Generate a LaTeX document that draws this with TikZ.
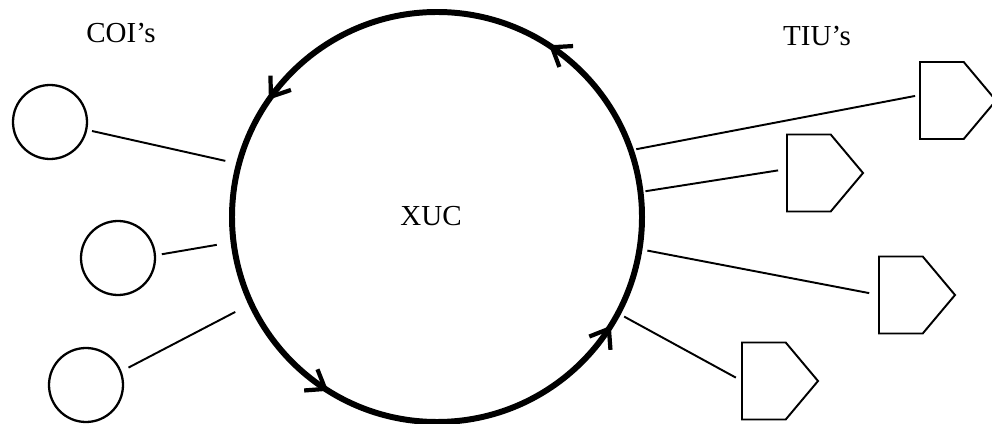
\documentclass[tikz,border=0pt]{standalone}
\usepackage{fontspec}
\setmainfont{Liberation Serif}
\usetikzlibrary{arrows.meta,shapes.symbols,decorations.markings}

\begin{document}
\begin{tikzpicture}[x=0.2mm,y=0.2mm,
  ring/.style={circle,draw,line width=3.4pt,minimum size=82mm,inner sep=0pt,outer sep=0pt},
  coi/.style={circle,draw,line width=1.3pt,minimum size=14.8mm,inner sep=0pt,outer sep=0pt},
  tiu/.style={signal,signal to=east,signal from=nowhere,signal pointer angle=100,draw,line width=1.1pt,
    minimum width=15.2mm,minimum height=15.4mm,inner sep=0pt,outer sep=0pt,anchor=west},
  link/.style={line width=1.1pt},
  lbl/.style={font=\fontsize{16.5}{20}\selectfont},
  barb/.style={decoration={markings,
    mark=at position #1 with {\arrow{Straight Barb[length=3.4mm,width=5mm,line width=2.4pt]}}}},
  flow/.style={postaction={decorate,barb=0.158},postaction={decorate,barb=0.403},
    postaction={decorate,barb=0.661},postaction={decorate,barb=0.911}}]
\useasboundingbox (0,0) rectangle (992,-424);
% central unit with its direction marks
\node[ring] (xuc) at (437,-217) {};
\path[flow] (xuc.center) circle[radius=41mm];
\node[lbl] (xuclbl) at (431,-216) {XUC};
% COI's on the left
\node[lbl] (coilbl) at (121,-33) {COI's};
\node[coi] (c1) at (50,-122) {};
\node[coi] (c2) at (118,-258) {};
\node[coi] (c3) at (86,-385) {};
\draw[link,shorten <=1.2mm,shorten >=2.8mm] (c1.-12) -- (xuc.165.5);
\draw[link,shorten <=1.4mm,shorten >=3.4mm] (c2.4) -- (xuc.187.5);
\draw[link,shorten <=1.8mm,shorten >=3.6mm] (c3.21.6) -- (xuc.205.8);
% TIU's on the right
\node[lbl] (tiulbl) at (817,-36) {TIU's};
\node[tiu] (t1) at (920,-100.5) {};
\node[tiu] (t2) at (787,-173) {};
\node[tiu] (t3) at (879,-295) {};
\node[tiu] (t4) at (742,-381) {};
\draw[link,shorten <=1.1mm,shorten >=1mm] (xuc.19.1) -- ([yshift=1.1mm]t1.west);
\draw[link,shorten <=1mm,shorten >=1.8mm] (xuc.7.4) -- ([yshift=0.8mm]t2.west);
\draw[link,shorten <=1.6mm,shorten >=2mm] (xuc.-9.7) -- (t3.west);
\draw[link,shorten <=1.4mm,shorten >=1.4mm] (xuc.-28.7) -- (t4.west);
\end{tikzpicture}
\end{document}
